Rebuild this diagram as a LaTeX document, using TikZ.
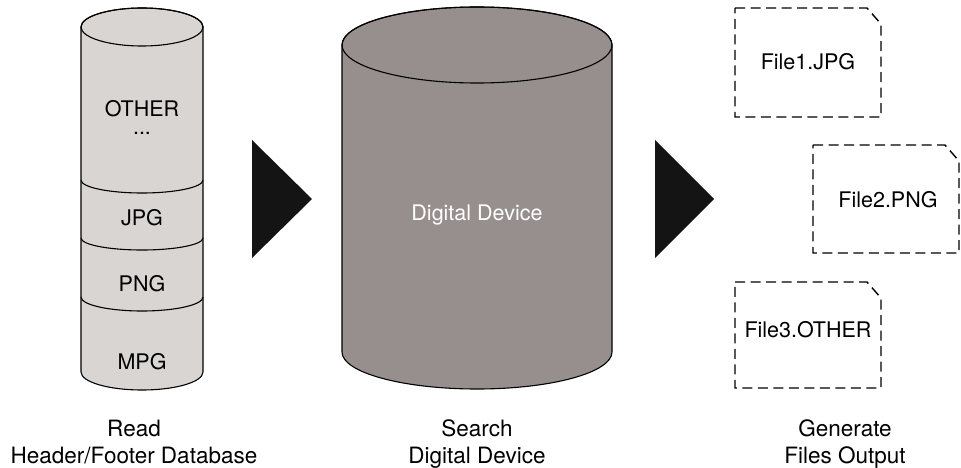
\documentclass[tikz,border=0pt]{standalone}
\usepackage{fontspec}
\setmainfont{TeX Gyre Heros}
\definecolor{dbfill}{RGB}{217,213,211}
\definecolor{devfill}{RGB}{150,143,142}
\begin{document}
\begin{tikzpicture}[x=1pt,y=-1pt,
  outline/.style={draw=black,line width=1.1pt},
  pointer/.style={fill=black!92,draw=none},
  filebox/.style={draw=black,line width=1.4pt,dash pattern=on 10pt off 5.5pt},
  intext/.style={font=\fontsize{21.5}{25}\selectfont,inner sep=0pt},
  whitetext/.style={intext,text=white},
  caption/.style={font=\fontsize{22.5}{27}\selectfont,align=center,inner sep=0pt,anchor=base}]
\useasboundingbox (0,0) rectangle (961,468);

% header/footer database cylinder
\path[outline,fill=dbfill] (81,27) -- (81,372)
  arc[start angle=180,end angle=0,x radius=61,y radius=18] -- (203,27)
  arc[start angle=0,end angle=-180,x radius=61,y radius=19] -- cycle;
\draw[outline] (142,27) ellipse[x radius=61,y radius=19];
\draw[outline] (81,180) arc[start angle=180,end angle=0,x radius=61,y radius=13];
\draw[outline] (81,238) arc[start angle=180,end angle=0,x radius=61,y radius=12];
\draw[outline] (81,297) arc[start angle=180,end angle=0,x radius=61,y radius=14];
\node[intext,font=\fontsize{21.5}{18}\selectfont,align=center,anchor=base] (other) at (142,135) {OTHER\\...};
\node[intext] (jpg) at (142,218) {JPG};
\node[intext] (png) at (142,284) {PNG};
\node[intext] (mpg) at (142,362) {MPG};

% digital device cylinder
\path[outline,fill=devfill] (342,45) -- (342,352)
  arc[start angle=180,end angle=0,x radius=135,y radius=37] -- (612,45)
  arc[start angle=0,end angle=-180,x radius=135,y radius=38] -- cycle;
\draw[outline] (477,45) ellipse[x radius=135,y radius=38];
\node[whitetext] (dev) at (477,215) {Digital Device};

% process pointers
\fill[pointer] (252,140) -- (312,199) -- (252,258) -- cycle;
\fill[pointer] (655,140) -- (714,199) -- (655,258) -- cycle;

% generated files
\draw[filebox] (735,8) -- (867,8) -- (881,24) -- (881,117) -- (735,117) -- cycle;
\draw[filebox] (813,145) -- (945,145) -- (959,161) -- (959,253) -- (813,253) -- cycle;
\draw[filebox] (735,282) -- (867,282) -- (881,298) -- (881,388) -- (735,388) -- cycle;
\node[intext] (f1) at (808,62) {File1.JPG};
\node[intext] (f2) at (888,200) {File2.PNG};
\node[intext] (f3) at (808,330) {File3.OTHER};

% step captions (anchored on the baseline of the second line)
\node[caption] (read) at (134,463) {Read\\Header/Footer Database};
\node[caption] (search) at (477,463) {Search\\Digital Device};
\node[caption] (gen) at (845,463) {Generate\\Files Output};
\end{tikzpicture}
\end{document}
